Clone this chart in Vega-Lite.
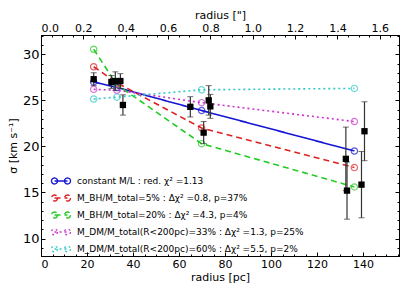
{
  "$schema": "https://vega.github.io/schema/vega-lite/v6.json",
  "width": 358,
  "height": 221,
  "autosize": "none",
  "padding": {"left": 41, "top": 35, "right": 8, "bottom": 40},
  "config": {
    "view": {"stroke": "black", "strokeWidth": 1},
    "font": "DejaVu Sans",
    "axis": {"grid": false, "domainColor": "black", "tickColor": "black", "labelColor": "black", "titleColor": "black", "titleFontWeight": "normal", "labelFont": "DejaVu Sans", "titleFont": "DejaVu Sans"},
    "legend": {"labelFont": "DejaVu Sans"}
  },
  "datasets": {
    "models": [
      {"model": "constant M/L : red. χ² =1.13", "r": 22.9, "sigma": 27.0},
      {"model": "constant M/L : red. χ² =1.13", "r": 33.0, "sigma": 26.4},
      {"model": "constant M/L : red. χ² =1.13", "r": 69.8, "sigma": 23.9},
      {"model": "constant M/L : red. χ² =1.13", "r": 136.2, "sigma": 19.5},
      {"model": "M_BH/M_total=5% : Δχ² =0.8, p=37%", "r": 22.9, "sigma": 28.65},
      {"model": "M_BH/M_total=5% : Δχ² =0.8, p=37%", "r": 33.0, "sigma": 26.9},
      {"model": "M_BH/M_total=5% : Δχ² =0.8, p=37%", "r": 69.8, "sigma": 22.0},
      {"model": "M_BH/M_total=5% : Δχ² =0.8, p=37%", "r": 136.2, "sigma": 17.7},
      {"model": "M_BH/M_total=20% : Δχ² =4.3, p=4%", "r": 22.9, "sigma": 30.55},
      {"model": "M_BH/M_total=20% : Δχ² =4.3, p=4%", "r": 33.0, "sigma": 26.7},
      {"model": "M_BH/M_total=20% : Δχ² =4.3, p=4%", "r": 69.8, "sigma": 20.3},
      {"model": "M_BH/M_total=20% : Δχ² =4.3, p=4%", "r": 136.2, "sigma": 15.6},
      {"model": "M_DM/M_total(R<200pc)=33% : Δχ² =1.3, p=25%", "r": 22.9, "sigma": 26.2},
      {"model": "M_DM/M_total(R<200pc)=33% : Δχ² =1.3, p=25%", "r": 33.0, "sigma": 26.1},
      {"model": "M_DM/M_total(R<200pc)=33% : Δχ² =1.3, p=25%", "r": 69.8, "sigma": 24.75},
      {"model": "M_DM/M_total(R<200pc)=33% : Δχ² =1.3, p=25%", "r": 136.2, "sigma": 22.7},
      {"model": "M_DM/M_total(R<200pc)=60% : Δχ² =5.5, p=2%", "r": 22.9, "sigma": 25.15},
      {"model": "M_DM/M_total(R<200pc)=60% : Δχ² =5.5, p=2%", "r": 33.0, "sigma": 25.35},
      {"model": "M_DM/M_total(R<200pc)=60% : Δχ² =5.5, p=2%", "r": 69.8, "sigma": 26.15},
      {"model": "M_DM/M_total(R<200pc)=60% : Δχ² =5.5, p=2%", "r": 136.2, "sigma": 26.3}
    ],
    "obs": [
      {"r": 22.9, "sigma": 27.3, "err": 0.7},
      {"r": 30.6, "sigma": 27.0, "err": 0.7},
      {"r": 32.3, "sigma": 27.1, "err": 1.0},
      {"r": 34.5, "sigma": 27.1, "err": 0.8},
      {"r": 35.6, "sigma": 24.5, "err": 1.1},
      {"r": 64.9, "sigma": 24.3, "err": 1.1},
      {"r": 70.7, "sigma": 21.5, "err": 1.2},
      {"r": 72.9, "sigma": 25.0, "err": 1.6},
      {"r": 73.6, "sigma": 24.35, "err": 1.3},
      {"r": 132.5, "sigma": 18.65, "err": 3.45},
      {"r": 133.0, "sigma": 15.2, "err": 3.1},
      {"r": 139.3, "sigma": 15.85, "err": 3.6},
      {"r": 140.6, "sigma": 21.65, "err": 3.2}
    ],
    "arcsec": [{"arcsec": 0}, {"arcsec": 1.6}]
  },
  "resolve": {"scale": {"x": "independent"}, "axis": {"x": "independent", "y": "independent"}},
  "layer": [
    {
      "data": {"name": "models"},
      "mark": {"type": "line", "strokeWidth": 1.6},
      "encoding": {
        "x": {"field": "r", "type": "quantitative", "scale": {"domain": [0, 155.6], "nice": false},
          "axis": {"orient": "bottom", "title": "radius [pc]", "titleFontSize": 11, "titlePadding": 2, "labelFontSize": 11,
            "values": [0,5,10,15,20,25,30,35,40,45,50,55,60,65,70,75,80,85,90,95,100,105,110,115,120,125,130,135,140,145,150,155],
            "labelExpr": "datum.value % 20 === 0 ? datum.label : ''",
            "tickSize": {"condition": {"test": "datum.value % 20 === 0", "value": -4}, "value": -2},
            "labelPadding": 6}},
        "y": {"field": "sigma", "type": "quantitative", "scale": {"domain": [8.1, 32.1], "nice": false, "zero": false},
          "axis": {"orient": "left", "title": "σ [km s⁻¹]", "titleFontSize": 11, "labelFontSize": 13,
            "values": [9,10,11,12,13,14,15,16,17,18,19,20,21,22,23,24,25,26,27,28,29,30,31,32],
            "labelExpr": "datum.value % 5 === 0 ? datum.label : ''",
            "tickSize": {"condition": {"test": "datum.value % 5 === 0", "value": -4}, "value": -2},
            "labelPadding": 6}},
        "color": {"field": "model", "type": "nominal",
          "scale": {"domain": ["constant M/L : red. χ² =1.13", "M_BH/M_total=5% : Δχ² =0.8, p=37%", "M_BH/M_total=20% : Δχ² =4.3, p=4%", "M_DM/M_total(R<200pc)=33% : Δχ² =1.3, p=25%", "M_DM/M_total(R<200pc)=60% : Δχ² =5.5, p=2%"],
            "range": ["#1515d5", "#e02020", "#22cc22", "#cc33cc", "#30c8c8"]},
          "legend": {"orient": "none", "legendX": 14, "legendY": 140, "title": null, "labelFontSize": 9, "labelLimit": 400,
            "symbolType": "M-1.3,0L1.3,0M-0.7,0A0.6,0.6 0 1 1 -1.9,0A0.6,0.6 0 1 1 -0.7,0M1.9,0A0.6,0.6 0 1 1 0.7,0A0.6,0.6 0 1 1 1.9,0",
            "symbolSize": 100, "symbolStrokeWidth": 1.3, "symbolFillColor": "transparent", "rowPadding": 5, "labelOffset": 10}},
        "strokeDash": {"field": "model", "type": "nominal",
          "scale": {"domain": ["constant M/L : red. χ² =1.13", "M_BH/M_total=5% : Δχ² =0.8, p=37%", "M_BH/M_total=20% : Δχ² =4.3, p=4%", "M_DM/M_total(R<200pc)=33% : Δχ² =1.3, p=25%", "M_DM/M_total(R<200pc)=60% : Δχ² =5.5, p=2%"],
            "range": [[1, 0], [6, 4], [6, 4], [2, 3], [2, 3]]}}
      }
    },
    {
      "data": {"name": "models"},
      "mark": {"type": "point", "shape": "circle", "filled": false, "size": 40, "strokeWidth": 1.2},
      "encoding": {
        "x": {"field": "r", "type": "quantitative", "scale": {"domain": [0, 155.6], "nice": false}, "axis": null},
        "y": {"field": "sigma", "type": "quantitative", "axis": null},
        "color": {"field": "model", "type": "nominal", "legend": null}
      }
    },
    {
      "data": {"name": "obs"},
      "mark": {"type": "errorbar", "ticks": {"size": 6, "color": "#333333"}, "rule": {"color": "#333333", "strokeWidth": 1.2}},
      "encoding": {
        "x": {"field": "r", "type": "quantitative", "scale": {"domain": [0, 155.6], "nice": false}, "axis": null},
        "y": {"field": "sigma", "type": "quantitative", "axis": null},
        "yError": {"field": "err"}
      }
    },
    {
      "data": {"name": "obs"},
      "mark": {"type": "square", "filled": true, "color": "black", "size": 40, "opacity": 1},
      "encoding": {
        "x": {"field": "r", "type": "quantitative", "scale": {"domain": [0, 155.6], "nice": false}, "axis": null},
        "y": {"field": "sigma", "type": "quantitative",
          "axis": {"orient": "right", "title": null, "labels": false,
            "values": [9,10,11,12,13,14,15,16,17,18,19,20,21,22,23,24,25,26,27,28,29,30,31,32],
            "tickSize": {"condition": {"test": "datum.value % 5 === 0", "value": -4}, "value": -2}}}
      }
    },
    {
      "data": {"name": "arcsec"},
      "mark": {"type": "point", "opacity": 0},
      "encoding": {
        "x": {"field": "arcsec", "type": "quantitative", "scale": {"domain": [0, 1.6907], "nice": false},
          "axis": {"orient": "top", "title": "radius [\"]", "titleFontSize": 11, "titlePadding": 2, "labelFontSize": 11, "format": ".1f",
            "values": [0,0.05,0.1,0.15,0.2,0.25,0.3,0.35,0.4,0.45,0.5,0.55,0.6,0.65,0.7,0.75,0.8,0.85,0.9,0.95,1.0,1.05,1.1,1.15,1.2,1.25,1.3,1.35,1.4,1.45,1.5,1.55,1.6,1.65],
            "labelExpr": "abs(datum.value*5 - round(datum.value*5)) < 0.001 ? datum.label : ''",
            "tickSize": {"condition": {"test": "abs(datum.value*5 - round(datum.value*5)) < 0.001", "value": -4}, "value": -2},
            "labelPadding": 6}}
      }
    }
  ]
}
